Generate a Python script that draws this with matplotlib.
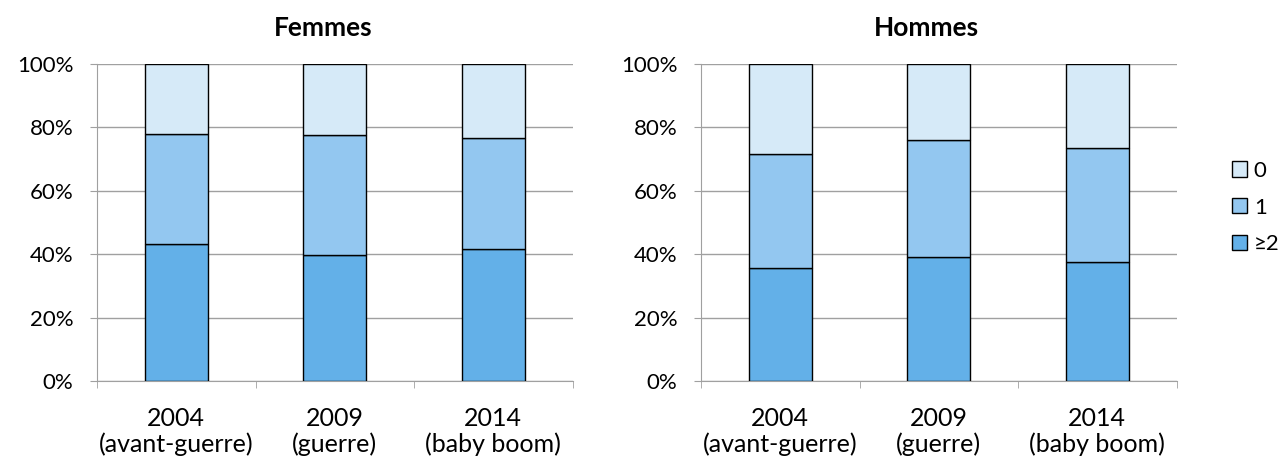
import matplotlib
matplotlib.use("Agg")
import matplotlib.pyplot as plt
from matplotlib.patches import Patch
import numpy as np

plt.rcParams['font.family'] = ['Lato', 'DejaVu Sans']

categories = ["2004\n(avant-guerre)", "2009\n(guerre)", "2014\n(baby boom)"]
series_names = ["≥2", "1", "0"]
femmes_2plus = [43.3, 39.7, 41.6]
femmes_1 = [34.5, 37.8, 35.1]
femmes_0 = [22.2, 22.5, 23.3]
hommes_2plus = [35.5, 39.1, 37.5]
hommes_1 = [36.0, 36.8, 36.0]
hommes_0 = [28.5, 24.1, 26.5]
colors = {"≥2": "#63B0E8", "1": "#93C7F0", "0": "#D6EAF8"}

FS = 16
W, H = 1279, 461
fig = plt.figure(figsize=(W/100, H/100), dpi=100)

def panel(left_px, title, s2, s1, s0):
    ax = fig.add_axes([left_px/W, (H-381)/H, 475.5/W, 317/H])
    x = np.arange(len(categories))
    bottom = np.zeros(len(categories))
    for name, vals in zip(series_names, [s2, s1, s0]):
        ax.bar(x, vals, width=0.4, bottom=bottom, color=colors[name],
               edgecolor="black", linewidth=1.0, zorder=3)
        bottom += np.array(vals)
    ax.set_xlim(-0.5, 2.5)
    ax.set_ylim(0, 100)
    ax.set_yticks(np.arange(0, 101, 20))
    ax.set_yticklabels([f"{v}%" for v in range(0, 101, 20)], fontsize=FS)
    ax.set_xticks(x)
    ax.set_xticklabels(categories, fontsize=18, linespacing=1.1)
    ax.set_xticks([-0.5, 0.5, 1.5, 2.5], minor=True)
    ax.tick_params(axis='x', which='major', length=0, pad=19)
    ax.tick_params(axis='x', which='minor', length=5, color="#A0A0A0")
    ax.tick_params(axis='y', length=5, color="#A0A0A0", pad=12)
    ax.yaxis.grid(True, color="#A0A0A0", linewidth=1.0, zorder=0)
    ax.set_axisbelow(True)
    for s in ["top", "right"]:
        ax.spines[s].set_visible(False)
    for s in ["left", "bottom"]:
        ax.spines[s].set_color("#A0A0A0")
    cx = (left_px + 475.5 / 2 - 12) / W
    fig.text(cx, (H - 36) / H, title, fontsize=19, fontweight="bold",
             ha="center", va="baseline")
    return ax

panel(97, "Femmes", femmes_2plus, femmes_1, femmes_0)
panel(701, "Hommes", hommes_2plus, hommes_1, hommes_0)

handles = [Patch(facecolor=colors[n], edgecolor="black", label=n) for n in ["0", "1", "≥2"]]
fig.legend(handles=handles, loc="center left", bbox_to_anchor=(1212/W, (H-207.5)/H),
           frameon=False, fontsize=FS, handlelength=0.68, handleheight=0.68,
           handletextpad=0.3, labelspacing=0.75)

fig.savefig("out.png", dpi=100)
